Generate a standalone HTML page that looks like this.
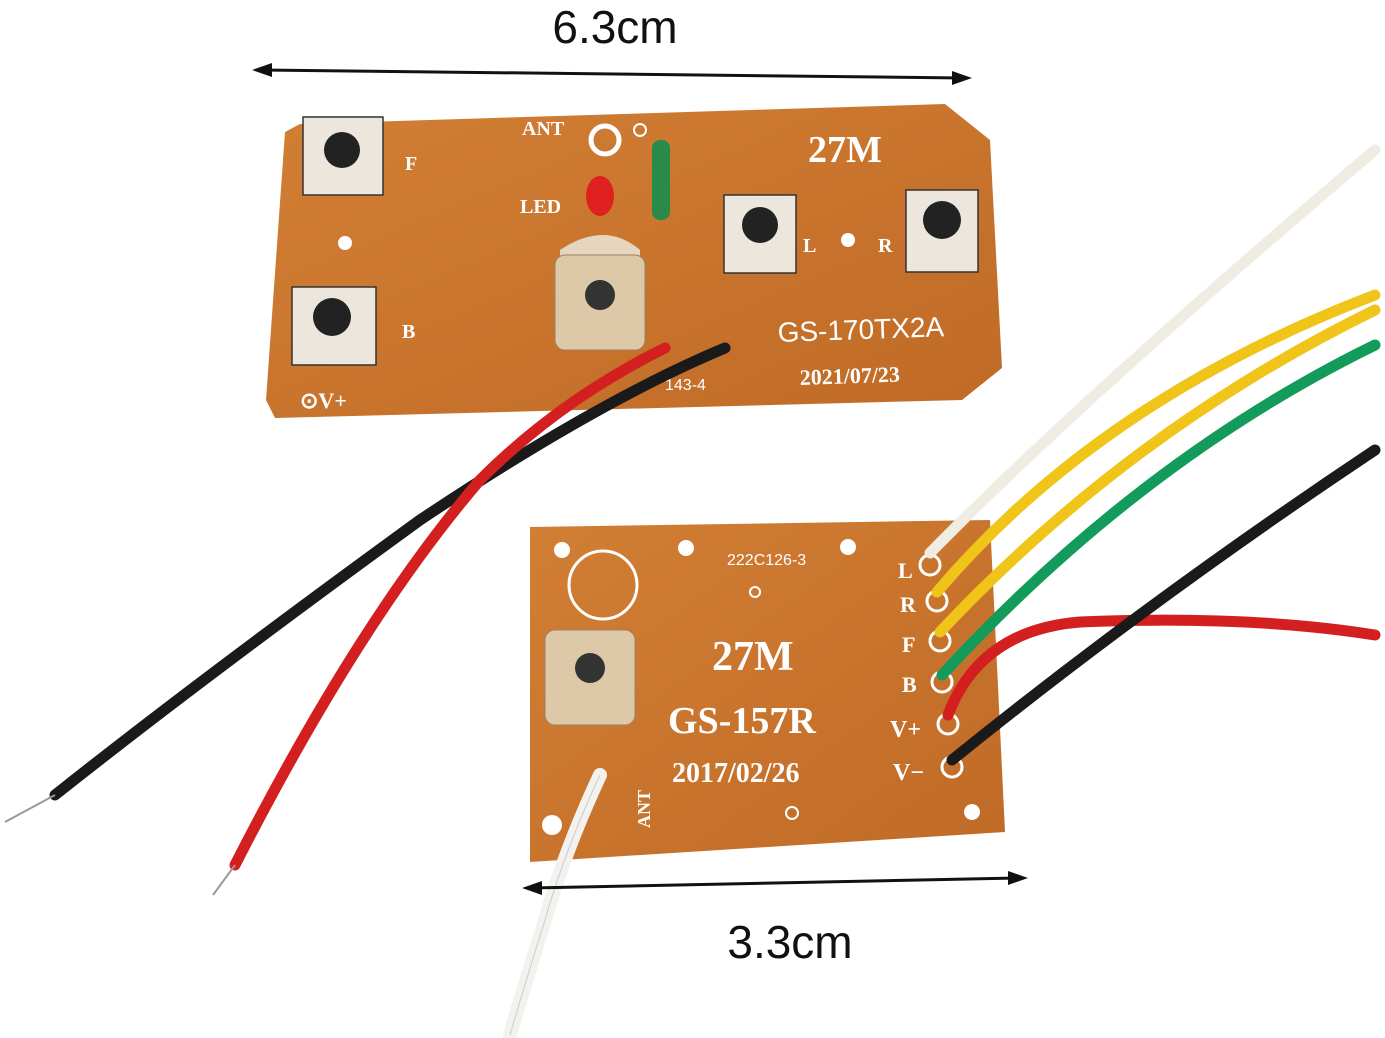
<!DOCTYPE html>
<html><head><meta charset="utf-8"><style>
body{margin:0;background:#fff;}
svg{display:block}
</style></head><body>
<svg width="1385" height="1038" viewBox="0 0 1385 1038" xmlns="http://www.w3.org/2000/svg" font-family="Liberation Serif, serif">
<defs>
<linearGradient id="pcb" x1="0" y1="0" x2="1" y2="1">
<stop offset="0" stop-color="#d27f35"/><stop offset="1" stop-color="#bf6a26"/>
</linearGradient>
</defs>
<!-- top dimension -->
<text x="615" y="43" font-family="Liberation Sans, sans-serif" font-size="46" text-anchor="middle" fill="#111">6.3cm</text>
<line x1="262" y1="70" x2="962" y2="78" stroke="#111" stroke-width="3"/>
<polygon points="252,70 272,63 272,77" fill="#111"/>
<polygon points="972,78 952,71 952,85" fill="#111"/>

<!-- top board -->
<polygon points="285,132 300,124 945,104 990,140 1002,368 962,400 275,418 266,400" fill="url(#pcb)"/>
<g fill="#ece6dc" stroke="#333" stroke-width="1.5">
<rect x="303" y="117" width="80" height="78"/>
<rect x="292" y="287" width="84" height="78"/>
<rect x="724" y="195" width="72" height="78"/>
<rect x="906" y="190" width="72" height="82"/>
</g>
<g fill="#222">
<circle cx="342" cy="150" r="18"/><circle cx="332" cy="317" r="19"/>
<circle cx="760" cy="225" r="18"/><circle cx="942" cy="220" r="19"/>
</g>
<g fill="#fff">
<circle cx="345" cy="243" r="7"/><circle cx="848" cy="240" r="7"/>
<circle cx="605" cy="140" r="14" fill="none" stroke="#fff" stroke-width="5"/>
<circle cx="640" cy="130" r="6" fill="none" stroke="#fff" stroke-width="2"/>
</g>
<ellipse cx="600" cy="196" rx="14" ry="20" fill="#e02020"/>
<rect x="652" y="140" width="18" height="80" rx="8" fill="#2a8a4a"/>
<path d="M560 250 Q605 220 640 250 L640 330 L560 330 Z" fill="#e6d6bf"/>
<rect x="555" y="255" width="90" height="95" rx="10" fill="#ddc9a8" stroke="#a08060"/>
<circle cx="600" cy="295" r="15" fill="#333"/>
<g fill="#fff" font-weight="bold">
<text x="808" y="162" font-size="38">27M</text>
<text x="522" y="135" font-size="20">ANT</text>
<text x="520" y="213" font-size="20">LED</text>
<text x="405" y="170" font-size="20">F</text>
<text x="402" y="338" font-size="20">B</text>
<text x="803" y="252" font-size="20">L</text>
<text x="878" y="252" font-size="20">R</text>
<text x="778" y="342" font-size="28" font-family="Liberation Sans, sans-serif" font-weight="normal" transform="rotate(-2 778 342)">GS-170TX2A</text>
<text x="800" y="385" font-size="22" transform="rotate(-2 800 385)">2021/07/23</text>
<text x="300" y="408" font-size="22">⊙V+</text>
<text x="665" y="390" font-size="16" font-family="Liberation Sans, sans-serif" font-weight="normal">143-4</text>
</g>
<!-- top wires -->
<path d="M725 348 Q600 400 420 520 Q200 680 55 795" stroke="#1a1a1a" stroke-width="11" fill="none" stroke-linecap="round"/>
<path d="M665 348 Q560 400 480 480 Q360 620 235 865" stroke="#d31f1f" stroke-width="11" fill="none" stroke-linecap="round"/>
<line x1="55" y1="795" x2="5" y2="822" stroke="#999" stroke-width="2"/>
<line x1="235" y1="865" x2="213" y2="895" stroke="#999" stroke-width="2"/>

<!-- bottom board -->
<polygon points="530,527 990,520 1005,832 530,862" fill="url(#pcb)"/>
<g fill="#fff">
<circle cx="562" cy="550" r="8"/><circle cx="686" cy="548" r="8"/><circle cx="848" cy="547" r="8"/>
<circle cx="972" cy="812" r="8"/><circle cx="552" cy="825" r="10"/>
</g>
<circle cx="603" cy="585" r="34" fill="none" stroke="#fff" stroke-width="3"/>
<circle cx="755" cy="592" r="5" fill="none" stroke="#fff" stroke-width="2"/>
<circle cx="792" cy="813" r="6" fill="none" stroke="#fff" stroke-width="2"/>
<rect x="545" y="630" width="90" height="95" rx="10" fill="#ddc9a8" stroke="#a08060"/>
<circle cx="590" cy="668" r="15" fill="#333"/>
<g fill="#fff" font-weight="bold">
<text x="712" y="670" font-size="42">27M</text>
<text x="668" y="733" font-size="38">GS-157R</text>
<text x="672" y="782" font-size="28">2017/02/26</text>
<text x="727" y="565" font-size="16" font-family="Liberation Sans, sans-serif" font-weight="normal">222C126-3</text>
<text x="898" y="578" font-size="22">L</text>
<text x="900" y="612" font-size="22">R</text>
<text x="902" y="652" font-size="22">F</text>
<text x="902" y="692" font-size="22">B</text>
<text x="890" y="737" font-size="24">V+</text>
<text x="893" y="780" font-size="24">V−</text>
<text x="612" y="850" font-size="18" transform="rotate(-90 620 820)">ANT</text>
</g>
<g fill="none" stroke="#fff" stroke-width="3">
<circle cx="930" cy="565" r="10"/><circle cx="937" cy="601" r="10"/><circle cx="940" cy="641" r="10"/>
<circle cx="942" cy="682" r="10"/><circle cx="948" cy="724" r="10"/><circle cx="952" cy="767" r="10"/>
</g>
<!-- bottom wires -->
<path d="M930 553 Q1080 400 1375 150" stroke="#efece4" stroke-width="11" fill="none" stroke-linecap="round"/>
<path d="M937 592 Q1100 400 1375 295" stroke="#f0c418" stroke-width="11" fill="none" stroke-linecap="round"/>
<path d="M940 632 Q1130 430 1375 310" stroke="#f0c418" stroke-width="11" fill="none" stroke-linecap="round"/>
<path d="M942 675 Q1140 460 1375 345" stroke="#129b5a" stroke-width="11" fill="none" stroke-linecap="round"/>
<path d="M948 715 Q980 630 1080 622 Q1250 615 1375 635" stroke="#d31f1f" stroke-width="11" fill="none" stroke-linecap="round"/>
<path d="M952 760 Q1150 600 1375 450" stroke="#1a1a1a" stroke-width="11" fill="none" stroke-linecap="round"/>
<path d="M600 775 Q565 850 545 920 Q520 1000 510 1035" stroke="#f4f2ee" stroke-width="14" fill="none" stroke-linecap="round"/>
<path d="M600 775 Q565 850 545 920 Q520 1000 510 1035" stroke="#ccc" stroke-width="1" fill="none"/>
<!-- bottom dimension -->
<line x1="532" y1="888" x2="1018" y2="878" stroke="#111" stroke-width="3"/>
<polygon points="522,888 542,881 542,895" fill="#111"/>
<polygon points="1028,878 1008,871 1008,885" fill="#111"/>
<text x="790" y="958" font-family="Liberation Sans, sans-serif" font-size="46" text-anchor="middle" fill="#111">3.3cm</text>
</svg>
</body></html>
